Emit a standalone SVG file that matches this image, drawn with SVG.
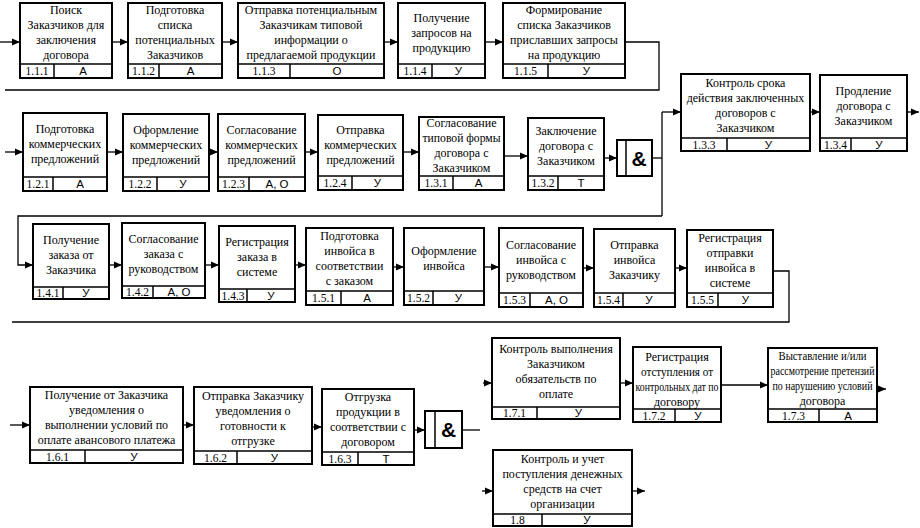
<svg xmlns="http://www.w3.org/2000/svg" width="920" height="528" viewBox="0 0 920 528">
<style>
.b{fill:#fff;stroke:#000;stroke-width:2}
.f{stroke:#000;stroke-width:1.5;fill:none}
.t{font-family:"Liberation Serif",serif;font-size:12px;text-anchor:middle;fill:#000}
.c{font-family:"Liberation Serif",serif;font-size:11.5px;text-anchor:middle;fill:#000}
.l{font-family:"Liberation Sans",sans-serif;font-size:11.5px;text-anchor:middle;fill:#000}
.a{font-family:"Liberation Sans",sans-serif;font-size:21px;font-weight:bold;text-anchor:middle;fill:#000}
.k{stroke:#000;stroke-width:1.3;fill:none}
.ar{marker-end:url(#ah)}
</style>
<defs>
<marker id="ah" markerUnits="userSpaceOnUse" markerWidth="9" markerHeight="8" refX="8" refY="4" orient="auto"><path d="M0,0.5 L8,4 L0,7.5 z" fill="#000"/></marker>
</defs>
<rect width="920" height="528" fill="#fff"/>
<g id="connectors">
<path class="k ar" d="M0,42 H20"/>
<path class="k ar" d="M112,42 H128"/>
<path class="k ar" d="M222,42 H238"/>
<path class="k ar" d="M384,42 H398"/>
<path class="k ar" d="M485,42 H503"/>
<path class="k" d="M625,42 H659 V90 H5"/>
<path class="k ar" d="M5,152 H23"/>
<path class="k ar" d="M107,152 H123"/>
<path class="k ar" d="M209,152 H218"/>
<path class="k ar" d="M305,152 H318"/>
<path class="k ar" d="M403,152 H419"/>
<path class="k ar" d="M504,156 H528"/>
<path class="k ar" d="M604,158 H617"/>
<path class="k" d="M652,158 H662"/>
<path class="k" d="M662,112 V216"/>
<path class="k ar" d="M662,112 H681"/>
<path class="k ar" d="M810,112 H820"/>
<path class="k ar" d="M907,112 H919"/>
<path class="k ar" d="M662,216 H18 V265 H33"/>
<path class="k ar" d="M109,265 H122"/>
<path class="k ar" d="M205,265 H219"/>
<path class="k ar" d="M295,265 H306"/>
<path class="k ar" d="M393,267 H404"/>
<path class="k ar" d="M484,267 H499"/>
<path class="k ar" d="M583,268 H594"/>
<path class="k ar" d="M675,268 H687"/>
<path class="k" d="M773,271 H789 V322 H12"/>
<path class="k ar" d="M10,425 H30"/>
<path class="k ar" d="M183,425 H194"/>
<path class="k ar" d="M312,427 H322"/>
<path class="k ar" d="M414,430 H425"/>
<path class="k" d="M462,430 H480"/>
<path class="k ar" d="M483,383 H492"/>
<path class="k ar" d="M620,383 H633"/>
<path class="k ar" d="M721,385 H768"/>
<path class="k ar" d="M877,389 H886"/>
<path class="k ar" d="M482,491 H493"/>
<path class="k ar" d="M632,491 H645"/>
</g>
<g id="n111"><rect class="b" x="20" y="3" width="92" height="75"/><path class="f" d="M20,64 H112 M54,64 V78"/>
<text class="t" x="66" y="14">Поиск</text><text class="t" x="66" y="29">Заказчиков для</text><text class="t" x="66" y="44">заключения</text><text class="t" x="66" y="59">договора</text>
<text class="c" x="37" y="75">1.1.1</text><text class="l" x="83" y="75">А</text></g>
<g id="n112"><rect class="b" x="128" y="3" width="94" height="75"/><path class="f" d="M128,64 H222 M159,64 V78"/>
<text class="t" x="175" y="14">Подготовка</text><text class="t" x="175" y="29">списка</text><text class="t" x="175" y="44">потенциальных</text><text class="t" x="175" y="59">Заказчиков</text>
<text class="c" x="143.5" y="75">1.1.2</text><text class="l" x="190.5" y="75">А</text></g>
<g id="n113"><rect class="b" x="238" y="3" width="146" height="75"/><path class="f" d="M238,64 H384 M290,64 V78"/>
<text class="t" x="311" y="14">Отправка потенциальным</text><text class="t" x="311" y="29">Заказчикам типовой</text><text class="t" x="311" y="44">информации о</text><text class="t" x="311" y="59">предлагаемой продукции</text>
<text class="c" x="264" y="75">1.1.3</text><text class="l" x="337" y="75">О</text></g>
<g id="n114"><rect class="b" x="398" y="3" width="87" height="75"/><path class="f" d="M398,64 H485 M432,64 V78"/>
<text class="t" x="441.5" y="21.5">Получение</text><text class="t" x="441.5" y="36.5">запросов на</text><text class="t" x="441.5" y="51.5">продукцию</text>
<text class="c" x="415" y="75">1.1.4</text><text class="l" x="458.5" y="75">У</text></g>
<g id="n115"><rect class="b" x="503" y="3" width="122" height="75"/><path class="f" d="M503,64 H625 M548,64 V78"/>
<text class="t" x="564" y="14">Формирование</text><text class="t" x="564" y="29">списка Заказчиков</text><text class="t" x="564" y="44">приславших запросы</text><text class="t" x="564" y="59">на продукцию</text>
<text class="c" x="525.5" y="75">1.1.5</text><text class="l" x="586.5" y="75">У</text></g>
<g id="n121"><rect class="b" x="23" y="113" width="84" height="78"/><path class="f" d="M23,177 H107 M53,177 V191"/>
<text class="t" x="65" y="133">Подготовка</text><text class="t" x="65" y="148">коммерческих</text><text class="t" x="65" y="163">предложений</text>
<text class="c" x="38" y="188">1.2.1</text><text class="l" x="80" y="188">А</text></g>
<g id="n122"><rect class="b" x="123" y="114" width="86" height="77"/><path class="f" d="M123,177 H209 M157,177 V191"/>
<text class="t" x="166" y="133.5">Оформление</text><text class="t" x="166" y="148.5">коммерческих</text><text class="t" x="166" y="163.5">предложений</text>
<text class="c" x="140" y="188">1.2.2</text><text class="l" x="183" y="188">У</text></g>
<g id="n123"><rect class="b" x="218" y="114" width="87" height="77"/><path class="f" d="M218,177 H305 M249,177 V191"/>
<text class="t" x="261.5" y="133.5">Согласование</text><text class="t" x="261.5" y="148.5">коммерческих</text><text class="t" x="261.5" y="163.5">предложений</text>
<text class="c" x="233.5" y="188">1.2.3</text><text class="l" x="277" y="188">А, О</text></g>
<g id="n124"><rect class="b" x="318" y="115" width="85" height="75"/><path class="f" d="M318,176 H403 M352,176 V190"/>
<text class="t" x="360.5" y="133.5">Отправка</text><text class="t" x="360.5" y="148.5">коммерческих</text><text class="t" x="360.5" y="163.5">предложений</text>
<text class="c" x="335" y="187">1.2.4</text><text class="l" x="377.5" y="187">У</text></g>
<g id="n131"><rect class="b" x="419" y="117" width="85" height="73"/><path class="f" d="M419,176 H504 M453,176 V190"/>
<text class="t" x="461.5" y="127">Согласование</text><text class="t" x="461.5" y="142" textLength="78" lengthAdjust="spacingAndGlyphs">типовой формы</text><text class="t" x="461.5" y="157">договора с</text><text class="t" x="461.5" y="172">Заказчиком</text>
<text class="c" x="436" y="187">1.3.1</text><text class="l" x="478.5" y="187">А</text></g>
<g id="n132"><rect class="b" x="528" y="118" width="76" height="72"/><path class="f" d="M528,176 H604 M558,176 V190"/>
<text class="t" x="566" y="135">Заключение</text><text class="t" x="566" y="150">договора с</text><text class="t" x="566" y="165">Заказчиком</text>
<text class="c" x="543" y="187">1.3.2</text><text class="l" x="581" y="187">Т</text></g>
<g id="j1"><rect class="b" x="617" y="140" width="35" height="36"/><path class="f" d="M626,140 V176"/><text class="a" x="639" y="165.5">&amp;</text></g>
<g id="n133"><rect class="b" x="681" y="74" width="129" height="77"/><path class="f" d="M681,138 H810 M727,138 V151"/>
<text class="t" x="745.5" y="86.5">Контроль срока</text><text class="t" x="745.5" y="101.5">действия заключенных</text><text class="t" x="745.5" y="116.5">договоров с</text><text class="t" x="745.5" y="131.5">Заказчиком</text>
<text class="c" x="704" y="148.5">1.3.3</text><text class="l" x="768.5" y="148.5">У</text></g>
<g id="n134"><rect class="b" x="820" y="75" width="87" height="76"/><path class="f" d="M820,138 H907 M851,138 V151"/>
<text class="t" x="863.5" y="94.5">Продление</text><text class="t" x="863.5" y="109.5">договора с</text><text class="t" x="863.5" y="124.5">Заказчиком</text>
<text class="c" x="835.5" y="148.5">1.3.4</text><text class="l" x="879" y="148.5">У</text></g>
<g id="n141"><rect class="b" x="33" y="224" width="76" height="75"/><path class="f" d="M33,287 H109 M63,287 V299"/>
<text class="t" x="71" y="244">Получение</text><text class="t" x="71" y="259">заказа от</text><text class="t" x="71" y="274">Заказчика</text>
<text class="c" x="48" y="297">1.4.1</text><text class="l" x="86" y="297">У</text></g>
<g id="n142"><rect class="b" x="122" y="223" width="83" height="75"/><path class="f" d="M122,286 H205 M153,286 V298"/>
<text class="t" x="163.5" y="243">Согласование</text><text class="t" x="163.5" y="258">заказа с</text><text class="t" x="163.5" y="273">руководством</text>
<text class="c" x="137.5" y="296">1.4.2</text><text class="l" x="179" y="296">А, О</text></g>
<g id="n143"><rect class="b" x="219" y="226" width="76" height="76"/><path class="f" d="M219,289 H295 M247,289 V302"/>
<text class="t" x="257" y="246">Регистрация</text><text class="t" x="257" y="261">заказа в</text><text class="t" x="257" y="276">системе</text>
<text class="c" x="233" y="299.5">1.4.3</text><text class="l" x="271" y="299.5">У</text></g>
<g id="n151"><rect class="b" x="306" y="228" width="87" height="77"/><path class="f" d="M306,291 H393 M341,291 V305"/>
<text class="t" x="349.5" y="240">Подготовка</text><text class="t" x="349.5" y="255">инвойса в</text><text class="t" x="349.5" y="270">соответствии</text><text class="t" x="349.5" y="285">с заказом</text>
<text class="c" x="323.5" y="302">1.5.1</text><text class="l" x="367" y="302">А</text></g>
<g id="n152"><rect class="b" x="404" y="228" width="80" height="77"/><path class="f" d="M404,291 H484 M433,291 V305"/>
<text class="t" x="444" y="255">Оформление</text><text class="t" x="444" y="270">инвойса</text>
<text class="c" x="418.5" y="302">1.5.2</text><text class="l" x="458.5" y="302">У</text></g>
<g id="n153"><rect class="b" x="499" y="228" width="84" height="79"/><path class="f" d="M499,293 H583 M530,293 V307"/>
<text class="t" x="541" y="248.5">Согласование</text><text class="t" x="541" y="263.5">инвойса с</text><text class="t" x="541" y="278.5">руководством</text>
<text class="c" x="514.5" y="304">1.5.3</text><text class="l" x="556.5" y="304">А, О</text></g>
<g id="n154"><rect class="b" x="594" y="229" width="81" height="78"/><path class="f" d="M594,293 H675 M623,293 V307"/>
<text class="t" x="634.5" y="249">Отправка</text><text class="t" x="634.5" y="264">инвойса</text><text class="t" x="634.5" y="279">Заказчику</text>
<text class="c" x="608.5" y="304">1.5.4</text><text class="l" x="649" y="304">У</text></g>
<g id="n155"><rect class="b" x="687" y="230" width="86" height="77"/><path class="f" d="M687,293 H773 M718,293 V307"/>
<text class="t" x="730" y="242">Регистрация</text><text class="t" x="730" y="257">отправки</text><text class="t" x="730" y="272">инвойса в</text><text class="t" x="730" y="287">системе</text>
<text class="c" x="702.5" y="304">1.5.5</text><text class="l" x="745.5" y="304">У</text></g>
<g id="n161"><rect class="b" x="30" y="387" width="153" height="76"/><path class="f" d="M30,450 H183 M85,450 V463"/>
<text class="t" x="106.5" y="399">Получение от Заказчика</text><text class="t" x="106.5" y="414">уведомления о</text><text class="t" x="106.5" y="429">выполнении условий по</text><text class="t" x="106.5" y="444">оплате авансового платежа</text>
<text class="c" x="57.5" y="460.5">1.6.1</text><text class="l" x="134" y="460.5">У</text></g>
<g id="n162"><rect class="b" x="194" y="387" width="118" height="77"/><path class="f" d="M194,451 H312 M237,451 V464"/>
<text class="t" x="253" y="399.5">Отправка Заказчику</text><text class="t" x="253" y="414.5">уведомления о</text><text class="t" x="253" y="429.5">готовности к</text><text class="t" x="253" y="444.5">отгрузке</text>
<text class="c" x="215.5" y="461.5">1.6.2</text><text class="l" x="274.5" y="461.5">У</text></g>
<g id="n163"><rect class="b" x="322" y="389" width="92" height="76"/><path class="f" d="M322,452 H414 M358,452 V465"/>
<text class="t" x="368" y="401">Отгрузка</text><text class="t" x="368" y="416">продукции в</text><text class="t" x="368" y="431">соответствии с</text><text class="t" x="368" y="446">договором</text>
<text class="c" x="340" y="462.5">1.6.3</text><text class="l" x="386" y="462.5">Т</text></g>
<g id="j2"><rect class="b" x="425" y="411" width="37" height="37"/><path class="f" d="M435,411 V448"/><text class="a" x="448.5" y="437">&amp;</text></g>
<g id="n171"><rect class="b" x="492" y="338" width="128" height="81"/><path class="f" d="M492,407 H620 M537,407 V419"/>
<text class="t" x="556" y="353">Контроль выполнения</text><text class="t" x="556" y="368">Заказчиком</text><text class="t" x="556" y="383">обязательств по</text><text class="t" x="556" y="398">оплате</text>
<text class="c" x="514.5" y="417">1.7.1</text><text class="l" x="578.5" y="417">У</text></g>
<g id="n172"><rect class="b" x="633" y="347" width="88" height="75"/><path class="f" d="M633,409 H721 M675,409 V422"/>
<text class="t" x="677" y="361">Регистрация</text><text class="t" x="677" y="376" textLength="72" lengthAdjust="spacingAndGlyphs">отступления от</text><text class="t" x="677" y="391" textLength="83" lengthAdjust="spacingAndGlyphs">контрольных дат по</text><text class="t" x="677" y="406">договору</text>
<text class="c" x="654" y="419.5">1.7.2</text><text class="l" x="698" y="419.5">У</text></g>
<g id="n173"><rect class="b" x="768" y="348" width="109" height="74"/><path class="f" d="M768,409 H877 M819,409 V422"/>
<text class="t" x="822.5" y="360" textLength="88" lengthAdjust="spacingAndGlyphs">Выставление и/или</text><text class="t" x="822.5" y="375" textLength="104" lengthAdjust="spacingAndGlyphs">рассмотрение претензий</text><text class="t" x="822.5" y="390" textLength="100" lengthAdjust="spacingAndGlyphs">по нарушению условий</text><text class="t" x="822.5" y="405">договора</text>
<text class="c" x="793.5" y="419.5">1.7.3</text><text class="l" x="848" y="419.5">А</text></g>
<g id="n18"><rect class="b" x="493" y="450" width="139" height="76"/><path class="f" d="M493,514 H632 M542,514 V526"/>
<text class="t" x="562.5" y="463">Контроль и учет</text><text class="t" x="562.5" y="478">поступления денежных</text><text class="t" x="562.5" y="493">средств на счет</text><text class="t" x="562.5" y="508">организации</text>
<text class="c" x="517.5" y="524">1.8</text><text class="l" x="587" y="524">У</text></g>
</svg>
